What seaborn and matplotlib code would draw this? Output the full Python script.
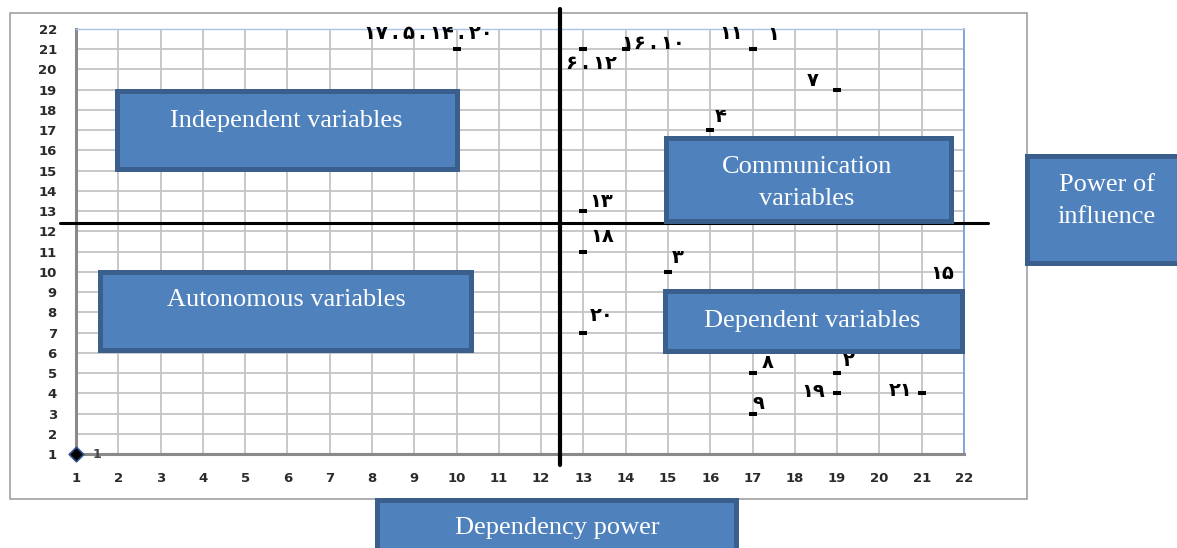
import matplotlib
matplotlib.use("Agg")
import matplotlib.pyplot as plt
import seaborn as sns
import pandas as pd
from matplotlib.patches import Rectangle

# MICMAC-style map: dependency power (x) vs power of influence (y)
labels = ["۱۷\u2009.\u2009۵\u2009.\u2009۱۴\u2009.\u2009۲۰", "۶\u2009.\u2009۱۲",
          "۱۶\u2009.\u2009۱۰", "۱۱", "۱", "۷", "۴", "۱۳", "۱۸",
          "۳", "۱۵", "۲۰", "۸", "۲", "۱۹", "۲۱", "۹"]
dependency = [10, 13, 14, 17, 17, 19, 16, 13, 13, 15, 21, 13, 17, 19, 19, 21, 17]
influence = [21, 21, 21, 21, 21, 19, 17, 13, 11, 10, 9, 7, 5, 5, 4, 4, 3]

origin_dep = [1]
origin_inf = [1]
origin_label = ["1"]

ticks = list(range(1, 23))
threshold_x = 12.44
threshold_y = 12.42

box_texts = ["Independent variables", "Communication\nvariables", "Power of\ninfluence",
             "Autonomous variables", "Dependent variables", "Dependency power"]

# label offsets in pixels from each point (dx right, dy up)
label_offsets = [(-28, 16), (8, -14), (28, 6), (-21, 16), (21, 15), (-24, 9), (10, 14),
                 (18, 10), (19, 15), (10, 14), (21, 19), (18, 17), (15, 11), (12, 13),
                 (-24, 2), (-21, 3), (6, 10)]
# boxes in pixels: x0, y0, x1, y1, text x, text y
box_geom = [(114, 88, 459, 171, 286, 121),
            (663, 135, 953, 223, 807, 183),
            (1024, 153, 1190, 265, 1107, 201),
            (97, 269, 474, 352, 286, 300),
            (662, 288, 964, 353, 812, 321),
            (375, 497, 738, 560, 557, 528)]

df = pd.DataFrame({"dependency": dependency, "influence": influence, "label": labels})

sns.set_style("white")
plt.rcParams["font.family"] = ["DejaVu Sans"]

W, H = 1177, 548
fig = plt.figure(figsize=(W / 100, H / 100), dpi=100)
ax = fig.add_axes([76 / W, 1 - 454 / H, (964 - 76) / W, (454 - 29) / H])

sns.scatterplot(data=df, x="dependency", y="influence", marker="_", s=36,
                linewidth=2.9, color="black", ax=ax, zorder=4, legend=False)
sns.scatterplot(x=origin_dep, y=origin_inf, marker="D", s=55, color="black",
                edgecolor="#2F4F8F", linewidth=1.2, ax=ax, zorder=4, legend=False)
for c in ax.collections:
    c.set_clip_on(False)

ax.set_xlim(1, 22)
ax.set_ylim(1, 22)
ax.set_xticks(ticks)
ax.set_yticks(ticks)
ax.set_xlabel("")
ax.set_ylabel("")
ax.grid(True, color="#C4C4C4", lw=1.3)
ax.set_axisbelow(True)

for s in ["left", "bottom"]:
    ax.spines[s].set_color("#8A8A8A")
    ax.spines[s].set_linewidth(2.2)
ax.spines["top"].set_color("#A9C4E8")
ax.spines["top"].set_linewidth(1)
ax.spines["right"].set_color("#6E9AD8")
ax.spines["right"].set_linewidth(1.2)

ax.tick_params(axis="x", length=3.6, width=1.5, color="#8A8A8A", pad=9,
               labelsize=9.5, labelcolor="#2A2A2A")
ax.tick_params(axis="y", length=5.8, width=1.5, color="#8A8A8A", pad=8,
               labelsize=9.5, labelcolor="#2A2A2A")
for t in ax.get_xticklabels() + ax.get_yticklabels():
    t.set_fontweight("bold")

# quadrant lines
ax.plot([0.62, 22.57], [threshold_y, threshold_y], color="black", lw=2.2,
        clip_on=False, zorder=5)
ax.plot([threshold_x, threshold_x], [0.46, 22.99], color="black", lw=3,
        clip_on=False, zorder=5)

for (x, y, lab), (dx, dy) in zip(zip(dependency, influence, labels), label_offsets):
    ax.annotate(lab, (x, y), xytext=(dx, dy), textcoords="offset pixels",
                ha="center", va="center", fontsize=14, fontweight="bold",
                color="black", zorder=6, annotation_clip=False)
ax.annotate(origin_label[0], (origin_dep[0], origin_inf[0]), xytext=(21, 0),
            textcoords="offset pixels", ha="center", va="center", fontsize=9,
            fontweight="bold", color="#444444", annotation_clip=False)

# outer chart border
fig.add_artist(Rectangle((10 / W, 1 - 499 / H), (1027 - 10) / W, (499 - 13) / H,
                         transform=fig.transFigure, fill=False, ec="#A0A0A0",
                         lw=1.2, zorder=-1))

lw_px = 5
for txt, (x0, y0, x1, y1, tx, ty) in zip(box_texts, box_geom):
    r = Rectangle(((x0 + lw_px / 2) / W, 1 - (y1 - lw_px / 2) / H),
                  (x1 - x0 - lw_px) / W, (y1 - y0 - lw_px) / H,
                  transform=fig.transFigure, fc="#4F81BD", ec="#3A5F8C",
                  lw=lw_px * 0.72, zorder=10)
    fig.add_artist(r)
    fig.text(tx / W, 1 - ty / H, txt, ha="center", va="center", color="white",
             fontsize=19, family="Liberation Serif", linespacing=1.55, zorder=11)

fig.savefig("out.png", dpi=100)
